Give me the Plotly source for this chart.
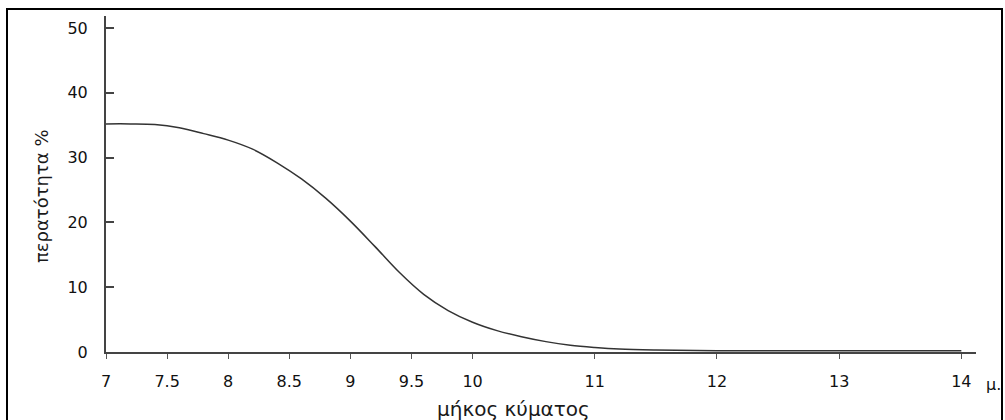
import plotly.graph_objects as go

# Data
wavelength = [7.0, 7.2, 7.4, 7.6, 7.8, 8.0, 8.2, 8.4, 8.6, 8.8, 9.0, 9.2, 9.4, 9.6,
              9.8, 10.0, 10.2, 10.4, 10.6, 10.8, 11.0, 11.2, 11.5, 12.0, 13.0, 14.0]
transmittance = [35.2, 35.2, 35.1, 34.6, 33.7, 32.7, 31.3, 29.2, 26.7, 23.7, 20.2, 16.3,
                 12.3, 8.9, 6.4, 4.6, 3.3, 2.35, 1.6, 1.05, 0.7, 0.45, 0.3, 0.2, 0.2, 0.2]

x_tickvals = [7, 7.5, 8, 8.5, 9, 9.5, 10, 11, 12, 13, 14]
x_ticktext = ["7", "7.5", "8", "8.5", "9", "9.5", "10", "11", "12", "13", "14"]
y_tickvals = [0, 10, 20, 30, 40, 50]

FONT = "DejaVu Sans, Arial, sans-serif"
W, H = 1005, 420
L, R, T, B = 106, 29, 16, 68
pw, ph = W - L - R, H - T - B

def px(xp):
    return (xp - L) / pw

def py(yp):
    return (H - B - yp) / ph

tick_font = dict(family=FONT, size=16, color="#111111")

fig = go.Figure()
fig.add_trace(go.Scatter(
    x=wavelength, y=transmittance, mode="lines",
    line=dict(color="#333333", width=1.5, shape="spline", smoothing=1.0),
    hoverinfo="skip", showlegend=False,
))

fig.update_layout(
    width=W, height=H,
    margin=dict(l=L, r=R, t=T, b=B, autoexpand=False),
    paper_bgcolor="white", plot_bgcolor="white",
    font=dict(family=FONT, size=16, color="#1a1a1a"),
    xaxis=dict(
        range=[7, 14.12], tickvals=x_tickvals, ticktext=x_ticktext,
        showgrid=False, zeroline=False, showline=True, linecolor="#444444", linewidth=2,
        ticks="outside", ticklen=5, tickwidth=1, tickcolor="#555555",
        ticklabelstandoff=9, tickfont=tick_font,
    ),
    yaxis=dict(
        range=[0, 51.85], tickvals=y_tickvals,
        showgrid=False, zeroline=False, showline=True, linecolor="#444444", linewidth=2,
        ticks="inside", ticklen=8, tickwidth=1.5, tickcolor="#444444",
        ticklabelstandoff=13, tickfont=tick_font,
    ),
    shapes=[dict(
        type="rect", xref="paper", yref="paper",
        x0=px(7), x1=px(1002), y0=py(428), y1=py(9),
        line=dict(color="black", width=2), fillcolor="rgba(0,0,0,0)",
    )],
    annotations=[
        dict(text="περατότητα %", xref="paper", yref="paper", x=px(41), y=py(197),
             textangle=-90, showarrow=False, font=dict(size=18, color="#1a1a1a"),
             xanchor="center", yanchor="middle"),
        dict(text="μήκος κύματος", xref="paper", yref="paper", x=px(513), y=py(409),
             showarrow=False, font=dict(size=20, color="#1a1a1a"),
             xanchor="center", yanchor="middle"),
        dict(text="μ.", xref="paper", yref="paper", x=px(984), y=py(384),
             showarrow=False, font=dict(size=16, color="#111111"),
             xanchor="left", yanchor="middle"),
    ],
)

fig.write_html("out.html", config={"displayModeBar": False},
               post_script="document.body.style.margin='0';document.body.style.overflow='hidden';")
